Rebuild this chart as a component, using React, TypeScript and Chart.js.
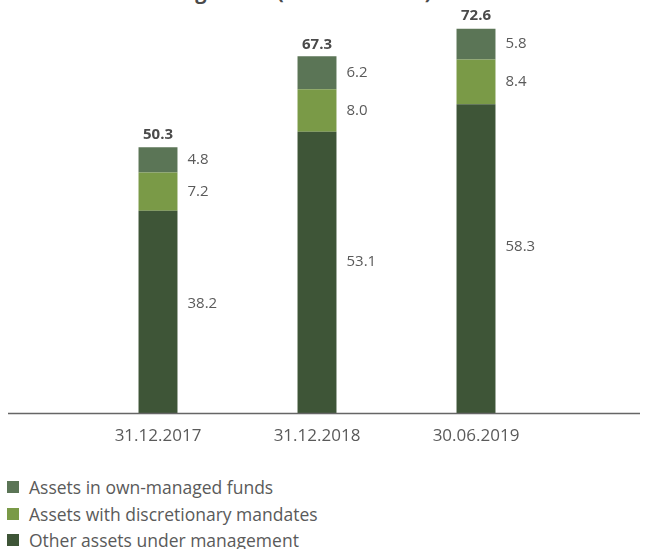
import React, { useEffect, useRef } from "react";
import { Chart, registerables } from "chart.js";

Chart.register(...registerables);

const categories = ["31.12.2017", "31.12.2018", "30.06.2019"];
const otherAssets = [38.2, 53.1, 58.3];
const discretionary = [7.2, 8.0, 8.4];
const ownFunds = [4.8, 6.2, 5.8];
const totals = [50.3, 67.3, 72.6];
const seriesNames = [
  "Other assets under management",
  "Assets with discretionary mandates",
  "Assets in own-managed funds",
];
const colors = ["#3e5537", "#7a9a47", "#5b7556"];
const FONT = "'Open Sans', 'Noto Sans', sans-serif";
const TEXT = "#5a5a5a";

const labelPlugin = {
  id: "labels",
  afterDatasetsDraw(chart: any) {
    const { ctx } = chart;
    const y = chart.scales.y;
    // axis line
    const y0 = y.getPixelForValue(0);
    ctx.save();
    ctx.strokeStyle = "#666";
    ctx.lineWidth = 1.5;
    ctx.beginPath();
    ctx.moveTo(8, y0);
    ctx.lineTo(640, y0);
    ctx.stroke();

    ctx.font = `15px ${FONT}`;
    ctx.fillStyle = TEXT;
    ctx.textAlign = "left";
    ctx.textBaseline = "middle";
    chart.data.datasets.forEach((ds: any, di: number) => {
      const meta = chart.getDatasetMeta(di);
      meta.data.forEach((bar: any, i: number) => {
        let start = 0;
        for (let k = 0; k < di; k++) start += chart.data.datasets[k].data[i];
        const v = ds.data[i];
        const frac = di === 0 ? 0.54 : 0.5;
        const py = y.getPixelForValue(start + v * frac);
        ctx.fillText(v.toFixed(1), bar.x + bar.width / 2 + 10, py);
      });
    });
    const topMeta = chart.getDatasetMeta(chart.data.datasets.length - 1);
    ctx.font = `bold 15px ${FONT}`;
    ctx.fillStyle = "#4a4a4a";
    ctx.textAlign = "center";
    topMeta.data.forEach((bar: any, i: number) => {
      ctx.fillText(totals[i].toFixed(1), bar.x, y.getPixelForValue(totals[i]) - 12);
    });
    ctx.restore();
  },
};

export default function App() {
  const ref = useRef<HTMLCanvasElement>(null);
  useEffect(() => {
    const chart = new Chart(ref.current!, {
      type: "bar",
      data: {
        labels: categories,
        datasets: [
          { label: seriesNames[0], data: otherAssets, backgroundColor: colors[0] },
          { label: seriesNames[1], data: discretionary, backgroundColor: colors[1] },
          { label: seriesNames[2], data: ownFunds, backgroundColor: colors[2] },
        ],
      },
      options: {
        animation: false,
        responsive: false,
        layout: { padding: { left: 78.5, right: 91.5, top: 20, bottom: 0 } },
        datasets: { bar: { categoryPercentage: 1, barPercentage: 0.245 } } as any,
        plugins: { legend: { display: false }, tooltip: { enabled: false } },
        scales: {
          x: {
            stacked: true,
            grid: { display: false, drawTicks: false },
            border: { display: false },
            ticks: { font: { family: FONT, size: 17 }, color: TEXT, padding: 12 },
          },
          y: { stacked: true, display: false, min: 0, max: 74.15 },
        },
      },
      plugins: [labelPlugin],
    });
    return () => chart.destroy();
  }, []);

  const legendItems = [2, 1, 0];
  return (
    <div style={{ position: "absolute", left: 0, top: 0, width: 647, height: 549, overflow: "hidden", background: "#fff", fontFamily: FONT }}>
      <div style={{ position: "absolute", left: 4, top: -20, fontSize: 20, lineHeight: "24px", fontWeight: "bold", color: "#4a4a4a", whiteSpace: "nowrap" }}>
        Assets under management (in CHF billions)
      </div>
      <canvas ref={ref} width={647} height={458} style={{ position: "absolute", left: 0, top: 0 }} />
      <div style={{ position: "absolute", left: 7, top: 474 }}>
        {legendItems.map((k) => (
          <div key={k} style={{ display: "flex", alignItems: "center", height: 26.5 }}>
            <span style={{ width: 12, height: 12, background: colors[k], display: "inline-block", marginRight: 10 }} />
            <span style={{ fontSize: 17.5, color: TEXT }}>{seriesNames[k]}</span>
          </div>
        ))}
      </div>
    </div>
  );
}
